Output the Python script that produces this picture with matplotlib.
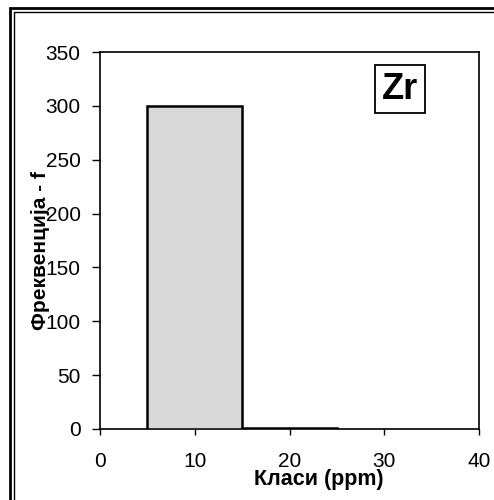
import matplotlib
matplotlib.use("Agg")
import matplotlib.pyplot as plt
from matplotlib.patches import Rectangle

plt.rcParams['font.family'] = ['Liberation Sans', 'DejaVu Sans']

class_centers = [10, 20]
frequencies = [300, 1]
bin_width = 10
x_ticks = [0, 10, 20, 30, 40]
y_ticks = [0, 50, 100, 150, 200, 250, 300, 350]

W, H = 494, 500
fig = plt.figure(figsize=(W/100, H/100), dpi=100)
ax = fig.add_axes([100/W, 1-429/H, 379/W, 377/H])

ax.bar(class_centers, frequencies, width=bin_width, color='#d9d9d9',
       edgecolor='black', linewidth=1.8, zorder=3)

ax.set_xlim(0, 40)
ax.set_ylim(0, 350)
ax.set_xticks(x_ticks)
ax.set_yticks(y_ticks)
ax.tick_params(axis='both', direction='out', width=1, labelsize=15, colors='black')
ax.tick_params(axis='y', length=6, pad=8)
ax.tick_params(axis='x', length=4.5, pad=12)
for s in ax.spines.values():
    s.set_linewidth(1.2)

fig.text(319/W, 1-479/H, 'Класи (ppm)', ha='center', va='center',
         fontsize=15.5, fontweight='bold')
fig.text(41/W, 1-251/H, 'Фреквенција - f', ha='center', va='center',
         fontsize=15, fontweight='bold', rotation=90)

# element label box
fig.patches.append(Rectangle((375/W, 1-113/H), 50/W, 48/H, transform=fig.transFigure,
                             facecolor='white', edgecolor='black', linewidth=1.3, zorder=5))
fig.text(400/W, 1-90/H, 'Zr', ha='center', va='center', fontsize=26,
         fontweight='bold', zorder=6)

# outer double frame
fig.patches.append(Rectangle((10/W, -0.1), 1.0, 1.1 - 8/H, transform=fig.transFigure,
                             fill=False, edgecolor='black', linewidth=2))
fig.patches.append(Rectangle((14/W, -0.1), 1.0, 1.1 - 12/H, transform=fig.transFigure,
                             fill=False, edgecolor='black', linewidth=1))

fig.savefig('out.png', dpi=100)
